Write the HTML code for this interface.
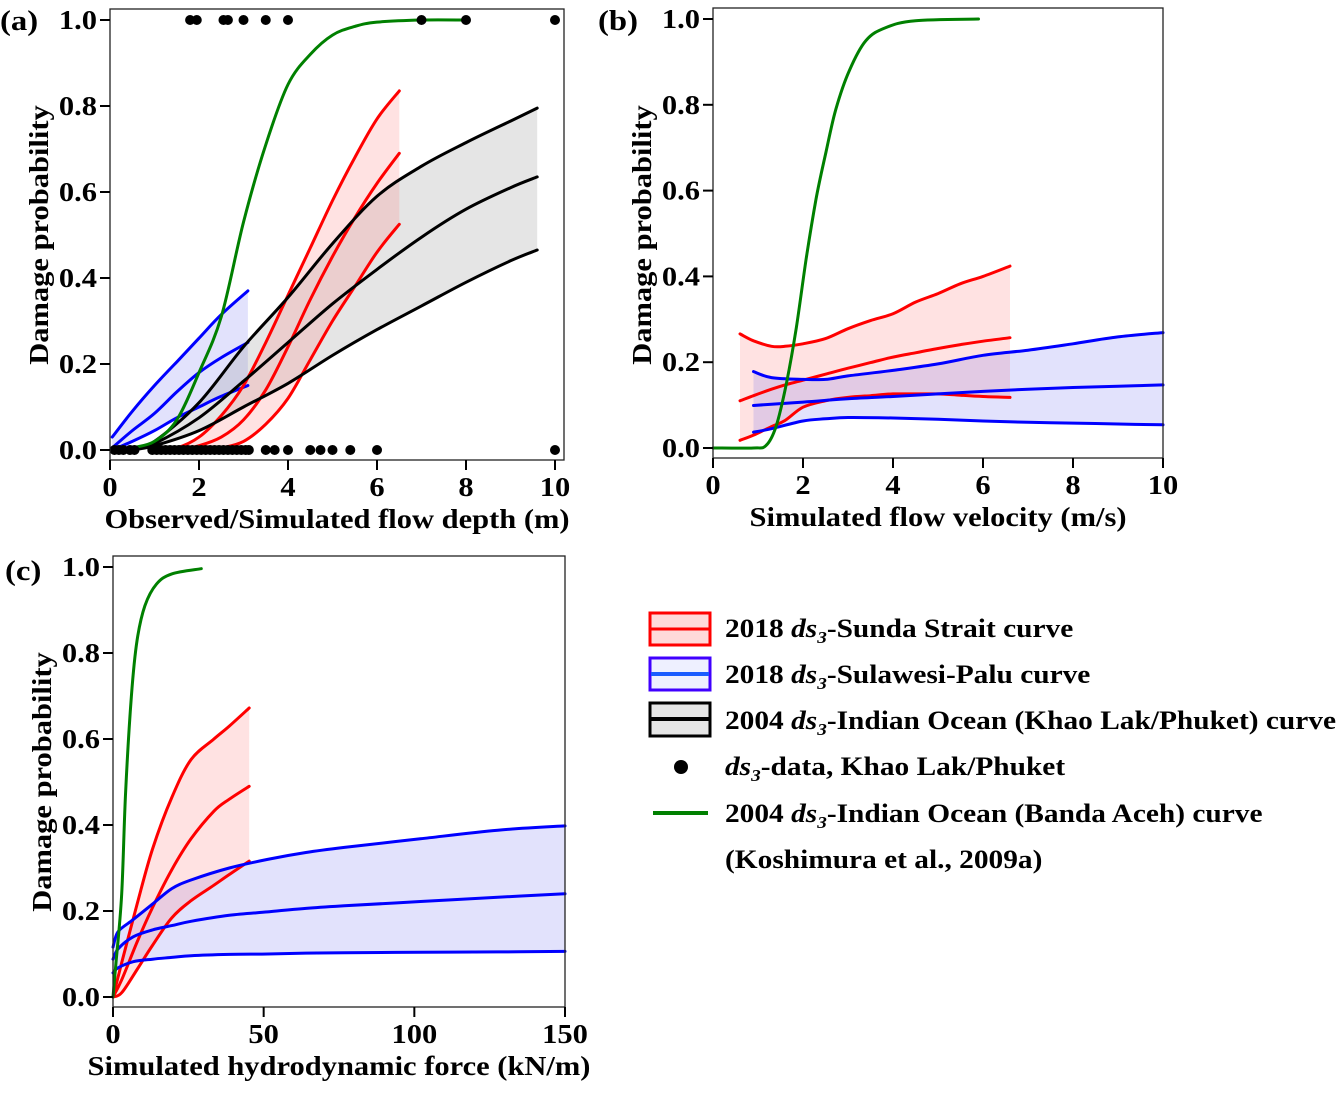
<!DOCTYPE html>
<html><head><meta charset="utf-8"><style>
body{margin:0;background:#fff}
svg text{font-family:"Liberation Serif",serif;font-weight:bold;fill:#000}
</style></head><body>
<svg id="fig" width="1340" height="1089" xmlns="http://www.w3.org/2000/svg"></svg>
<script>
// ---------- Panel (a): flow depth ----------
const aGreenX=[0.3,0.5,1,1.5,2,2.5,3,3.5,4,4.5,5,5.5,6,7,8];
const aGreenY=[0,0.005,0.02,0.07,0.18,0.31,0.53,0.71,0.85,0.92,0.965,0.985,0.995,1,1];
const aBlueX=[0.05,0.5,1,1.5,2,2.5,3.1];
const aBlueUp=[0.03,0.09,0.15,0.205,0.26,0.315,0.37];
const aBlueMid=[0.005,0.045,0.085,0.135,0.18,0.215,0.25];
const aBlueLo=[0,0.02,0.045,0.075,0.1,0.125,0.15];
const aBlackX=[0.5,1,2,3,4,5,6,7,8,9,9.6];
const aBlackUp=[0,0.02,0.11,0.24,0.355,0.48,0.59,0.66,0.715,0.765,0.795];
const aBlackMid=[0,0.015,0.075,0.16,0.25,0.34,0.42,0.495,0.56,0.61,0.635];
const aBlackLo=[0,0.01,0.045,0.1,0.155,0.22,0.28,0.335,0.39,0.44,0.465];
const aRedX=[1,1.5,2,2.5,3,3.5,4,4.5,5,5.5,6,6.5];
const aRedUp=[0,0.005,0.03,0.08,0.15,0.25,0.36,0.47,0.58,0.68,0.77,0.835];
const aRedMid=[0,0,0.01,0.03,0.07,0.14,0.24,0.35,0.45,0.54,0.62,0.69];
const aRedLo=[0,0,0,0.005,0.02,0.06,0.12,0.21,0.3,0.38,0.46,0.525];
const aDotsTop=[1.8,1.95,2.55,2.65,3.0,3.5,4.0,7.0,8.0,10];
const aDotsBottom=[0.1,0.2,0.3,0.45,0.55,0.95,1.05,1.15,1.25,1.35,1.45,1.55,1.65,1.75,1.85,1.95,2.05,2.15,2.25,2.35,2.45,2.55,2.65,2.75,2.85,2.95,3.05,3.12,3.5,3.7,4.0,4.5,4.73,5.0,5.4,6.0,10];
const aXTicks=[0,2,4,6,8,10];
// ---------- Panel (b): velocity ----------
const bGreenX=[0,0.9,1.18,1.4,1.63,1.85,2.07,2.29,2.51,2.73,3.03,3.4,3.84,4.5,5.9];
const bGreenY=[0,0,0.006,0.05,0.15,0.28,0.44,0.58,0.69,0.79,0.88,0.95,0.98,0.996,1];
const bRedX=[0.6,0.9,1.3,1.6,2,2.5,3,3.5,4,4.5,5,5.5,6,6.6];
const bRedUp=[0.266,0.25,0.237,0.237,0.243,0.255,0.278,0.297,0.313,0.34,0.36,0.383,0.4,0.424];
const bRedMid=[0.11,0.122,0.137,0.147,0.158,0.172,0.186,0.199,0.212,0.222,0.232,0.241,0.249,0.257];
const bRedLo=[0.018,0.03,0.05,0.064,0.095,0.11,0.118,0.122,0.126,0.126,0.126,0.123,0.12,0.118];
const bBlueX=[0.9,1.3,2,2.5,3,4,5,6,7,8,9,10];
const bBlueUp=[0.178,0.164,0.16,0.16,0.168,0.181,0.196,0.216,0.228,0.243,0.259,0.269];
const bBlueMid=[0.099,0.102,0.107,0.111,0.115,0.12,0.126,0.132,0.137,0.141,0.144,0.147];
const bBlueLo=[0.037,0.045,0.063,0.068,0.071,0.07,0.067,0.063,0.06,0.058,0.056,0.054];
const bXTicks=[0,2,4,6,8,10];
// ---------- Panel (c): force ----------
const cGreenX=[0,1,2.9,4.2,6.1,8,10.6,14.4,19.5,29.3];
const cGreenY=[0,0.08,0.24,0.48,0.7,0.83,0.91,0.96,0.984,0.996];
const cRedX=[0,2.9,8,13.1,19.5,25.9,33.5,38.6,45.2];
const cRedUp=[0,0.08,0.216,0.344,0.464,0.552,0.6,0.63,0.672];
const cRedMid=[0,0.04,0.128,0.208,0.296,0.368,0.432,0.46,0.49];
const cRedLo=[0,0.01,0.064,0.12,0.184,0.224,0.26,0.285,0.316];
const cBlueX=[0,1.7,6.7,13.1,19.5,25.9,38.6,51.3,64,76.8,102,127.7,150];
const cBlueUp=[0.116,0.152,0.18,0.216,0.252,0.272,0.3,0.32,0.336,0.348,0.368,0.388,0.398];
const cBlueMid=[0.088,0.112,0.14,0.156,0.166,0.176,0.19,0.198,0.206,0.212,0.222,0.232,0.24];
const cBlueLo=[0.056,0.068,0.082,0.088,0.092,0.096,0.099,0.1,0.102,0.103,0.104,0.105,0.106];
const cXTicks=[0,50,100,150];
const yTicks=[0,0.2,0.4,0.6,0.8,1.0];

const NS='http://www.w3.org/2000/svg';
const svg=document.getElementById('fig');
const SX=1.13;
function mk(tag,attrs,parent){const e=document.createElementNS(NS,tag);for(const k in attrs)e.setAttribute(k,attrs[k]);(parent||svg).appendChild(e);return e;}
function txt(parent,x,y,size,anchor,str,rot){
  const t=mk('text',{x:0,y:0,'font-size':size,'text-anchor':anchor,
    transform:'translate('+x+','+y+')'+(rot?' rotate(-90)':'')+' scale('+SX+',1)'},parent);
  t.textContent=str;return t;
}
function panel(P){
  const g=mk('g',{});
  
  
  P.sx=v=>P.x0+(v-P.xmin)/(P.xmax-P.xmin)*(P.x1-P.x0);
  P.sy=v=>P.y0-(v)*(P.y0-P.y1);
  P.g=g;return P;
}
function pxy(P,xs,ys){return xs.map((x,i)=>[P.sx(x),P.sy(ys[i])]);}
function smooth(p,start){
  let d=start?'M'+p[0][0].toFixed(1)+','+p[0][1].toFixed(1):'L'+p[0][0].toFixed(1)+','+p[0][1].toFixed(1);
  for(let i=0;i<p.length-1;i++){
    const p0=p[Math.max(i-1,0)],p1=p[i],p2=p[i+1],p3=p[Math.min(i+2,p.length-1)];
    const c1=[p1[0]+(p2[0]-p0[0])/6,p1[1]+(p2[1]-p0[1])/6];
    const c2=[p2[0]-(p3[0]-p1[0])/6,p2[1]-(p3[1]-p1[1])/6];
    d+=' C'+c1.map(v=>v.toFixed(1)).join(',')+' '+c2.map(v=>v.toFixed(1)).join(',')+' '+p2.map(v=>v.toFixed(1)).join(',');
  }
  return d;
}
function band(P,xs,lo,hi,fill,name){
  const d=smooth(pxy(P,xs,hi),true)+' '+smooth(pxy(P,xs,lo).reverse(),false)+' Z';
  const e=mk('path',{d:d,fill:fill,stroke:'none'},P.g);
  
  
}
function line(P,xs,ys,color,name){
  const e=mk('path',{d:smooth(pxy(P,xs,ys),true),fill:'none',stroke:color,'stroke-width':3,'stroke-linejoin':'round','stroke-linecap':'round'},P.g);
  
  
}
function axes(P,xticks,xlabel,ylabelY,letter,letterX,letterY){
  const b=mk('rect',{x:P.x0,y:P.bt,width:P.br-P.x0,height:P.bb-P.bt,fill:'none',stroke:'#222','stroke-width':1.3},P.g);
  
  
  yTicks.forEach(t=>{
    const y=P.sy(t);
    mk('line',{x1:P.x0-10,x2:P.x0,y1:y,y2:y,stroke:'#000','stroke-width':2},P.g);
    const tx=txt(P.g,P.x0-13,y+9,27,'end',t.toFixed(1));
    
    
  });
  xticks.forEach(t=>{
    const x=P.sx(t);
    mk('line',{x1:x,x2:x,y1:P.bb,y2:P.bb+10,stroke:'#000','stroke-width':2},P.g);
    const tx=txt(P.g,x,P.bb+36,27,'middle',String(t));
    
    
  });
  const xl=txt(P.g,(P.x0+P.br)/2,P.bb+68,27,'middle',xlabel);
  
  
  const yl=txt(P.g,P.x0-62,ylabelY,27,'middle','Damage probability',true);
  
  
  const lt=txt(P.g,letterX,letterY,29,'start',letter);
  
  
}
const RF='rgba(255,140,140,0.25)', BF='rgba(110,110,240,0.2)', KF='rgba(150,150,150,0.25)';
// Panel a
const A=panel({name:'panel-a-flow-depth',x0:110,x1:555,xmin:0,xmax:10,y0:450,y1:20,bt:9,bb:460,br:564});
band(A,aBlueX,aBlueLo,aBlueUp,BF,'blue-band');
band(A,aBlackX,aBlackLo,aBlackUp,KF,'black-band');
band(A,aRedX,aRedLo,aRedUp,RF,'red-band');
line(A,aBlueX,aBlueUp,'#0000ff','blue-upper');line(A,aBlueX,aBlueMid,'#0000ff','blue-mid');line(A,aBlueX,aBlueLo,'#0000ff','blue-lower');
line(A,aRedX,aRedUp,'#ff0000','red-upper');line(A,aRedX,aRedMid,'#ff0000','red-mid');line(A,aRedX,aRedLo,'#ff0000','red-lower');
line(A,aBlackX,aBlackUp,'#000','black-upper');line(A,aBlackX,aBlackMid,'#000','black-mid');line(A,aBlackX,aBlackLo,'#000','black-lower');
line(A,aGreenX,aGreenY,'#008000','green-curve');
aDotsTop.forEach(x=>{const c=mk('circle',{cx:A.sx(x),cy:A.sy(1),r:5,fill:'#000'},A.g);});
aDotsBottom.forEach(x=>{const c=mk('circle',{cx:A.sx(x),cy:A.sy(0),r:5,fill:'#000'},A.g);});
axes(A,aXTicks,'Observed/Simulated flow depth (m)',235,'(a)',0,30);
// Panel b
const B=panel({name:'panel-b-flow-velocity',x0:713,x1:1163,xmin:0,xmax:10,y0:448,y1:19,bt:8,bb:458,br:1163});
band(B,bRedX,bRedLo,bRedUp,RF,'red-band');
band(B,bBlueX,bBlueLo,bBlueUp,BF,'blue-band');
line(B,bRedX,bRedUp,'#ff0000','red-upper');line(B,bRedX,bRedMid,'#ff0000','red-mid');line(B,bRedX,bRedLo,'#ff0000','red-lower');
line(B,bBlueX,bBlueUp,'#0000ff','blue-upper');line(B,bBlueX,bBlueMid,'#0000ff','blue-mid');line(B,bBlueX,bBlueLo,'#0000ff','blue-lower');
line(B,bGreenX,bGreenY,'#008000','green-curve');
axes(B,bXTicks,'Simulated flow velocity (m/s)',235,'(b)',598,30);
// Panel c
const C=panel({name:'panel-c-hydrodynamic-force',x0:113,x1:565,xmin:0,xmax:150,y0:997,y1:567,bt:556,bb:1007,br:565});
band(C,cBlueX,cBlueLo,cBlueUp,BF,'blue-band');
band(C,cRedX,cRedLo,cRedUp,RF,'red-band');
line(C,cRedX,cRedUp,'#ff0000','red-upper');line(C,cRedX,cRedMid,'#ff0000','red-mid');line(C,cRedX,cRedLo,'#ff0000','red-lower');
line(C,cBlueX,cBlueUp,'#0000ff','blue-upper');line(C,cBlueX,cBlueMid,'#0000ff','blue-mid');line(C,cBlueX,cBlueLo,'#0000ff','blue-lower');
line(C,cGreenX,cGreenY,'#008000','green-curve');
axes(C,cXTicks,'Simulated hydrodynamic force (kN/m)',782,'(c)',5,580);
</script>
<svg style="position:absolute;left:0;top:0" width="1340" height="1089">
 <g>
  <rect x="650" y="613" width="60" height="32" fill="#ffd9d9" stroke="#ff0000" stroke-width="3"/>
  <line x1="651" y1="629" x2="709" y2="629" stroke="#ff0000" stroke-width="3"/>
  <text transform="translate(725,637) scale(1.13,1)" font-size="26">2018 <tspan font-style="italic">ds<tspan font-size="17" dy="6">3</tspan></tspan><tspan dy="-6">-Sunda Strait curve</tspan></text>
 </g>
 <g>
  <rect x="650" y="658" width="60" height="32" fill="#eef0ff" stroke="#4000ff" stroke-width="3"/>
  <line x1="651" y1="674" x2="709" y2="674" stroke="#1a5cff" stroke-width="4"/>
  <text transform="translate(725,683) scale(1.13,1)" font-size="26">2018 <tspan font-style="italic">ds<tspan font-size="17" dy="6">3</tspan></tspan><tspan dy="-6">-Sulawesi-Palu curve</tspan></text>
 </g>
 <g>
  <rect x="650" y="703" width="60" height="33" fill="#e5e5e5" stroke="#000" stroke-width="3"/>
  <line x1="651" y1="719" x2="709" y2="719" stroke="#000" stroke-width="4"/>
  <text transform="translate(725,729) scale(1.13,1)" font-size="26">2004 <tspan font-style="italic">ds<tspan font-size="17" dy="6">3</tspan></tspan><tspan dy="-6">-Indian Ocean (Khao Lak/Phuket) curve</tspan></text>
 </g>
 <g>
  <circle cx="681" cy="767" r="7" fill="#000"/>
  <text transform="translate(725,775) scale(1.13,1)" font-size="26"><tspan font-style="italic">ds<tspan font-size="17" dy="6">3</tspan></tspan><tspan dy="-6">-data, Khao Lak/Phuket</tspan></text>
 </g>
 <g>
  <line x1="653" y1="813" x2="708" y2="813" stroke="#008000" stroke-width="4"/>
  <text transform="translate(725,822) scale(1.13,1)" font-size="26">2004 <tspan font-style="italic">ds<tspan font-size="17" dy="6">3</tspan></tspan><tspan dy="-6">-Indian Ocean (Banda Aceh) curve</tspan></text>
  <text transform="translate(725,868) scale(1.13,1)" font-size="26">(Koshimura et al., 2009a)</text>
 </g>
</svg>
</body></html>
